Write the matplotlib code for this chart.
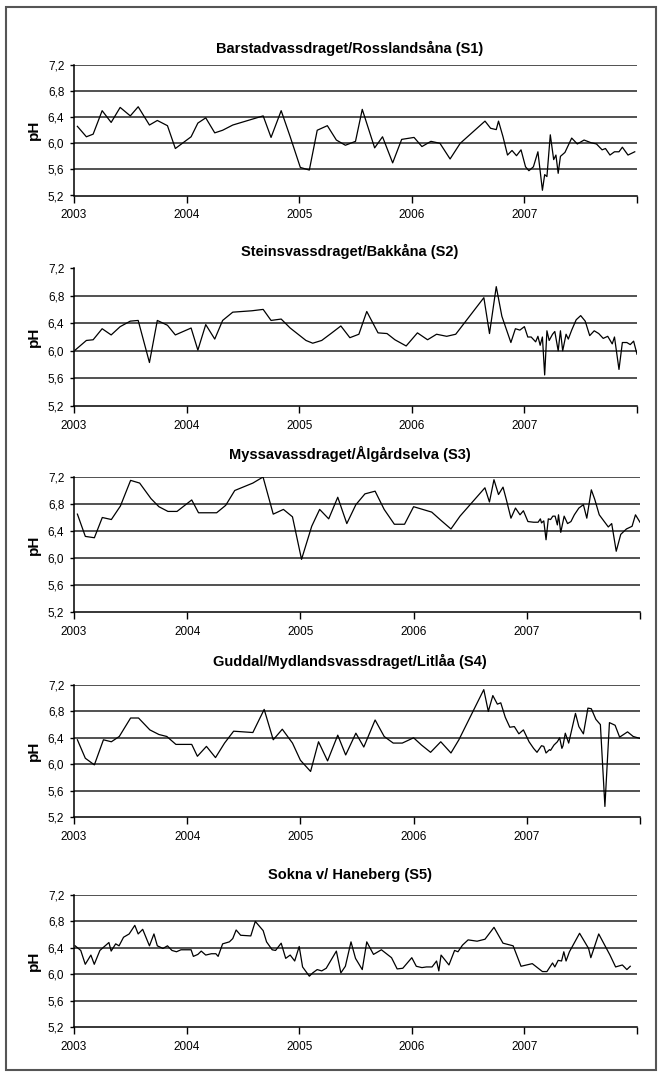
import matplotlib
matplotlib.use("Agg")
import matplotlib.pyplot as plt
from matplotlib.patches import Rectangle

plt.rcParams['font.family'] = ['Liberation Sans', 'DejaVu Sans']

titles = [
    "Barstadvassdraget/Rosslandsåna (S1)",
    "Steinsvassdraget/Bakkåna (S2)",
    "Myssavassdraget/Ålgårdselva (S3)",
    "Guddal/Mydlandsvassdraget/Litlåa (S4)",
    "Sokna v/ Haneberg (S5)",
]
year_ticks = [2003, 2004, 2005, 2006, 2007, 2008]
year_labels = ["2003", "2004", "2005", "2006", "2007", ""]
ph_ticks = [5.2, 5.6, 6.0, 6.4, 6.8, 7.2]
ph_labels = ["5,2", "5,6", "6,0", "6,4", "6,8", "7,2"]

s1_t = [2003.03, 2003.11, 2003.17, 2003.25, 2003.33, 2003.41, 2003.50, 2003.57, 2003.67, 2003.74,
        2003.83, 2003.90, 2004.04, 2004.10, 2004.17, 2004.25, 2004.32, 2004.41, 2004.68, 2004.75,
        2004.84, 2004.92, 2005.01, 2005.09, 2005.16, 2005.25, 2005.33, 2005.41, 2005.50, 2005.56,
        2005.67, 2005.74, 2005.83, 2005.91, 2006.02, 2006.09, 2006.17, 2006.25, 2006.34, 2006.43,
        2006.65, 2006.70, 2006.75, 2006.77, 2006.81, 2006.85, 2006.89, 2006.93, 2006.97, 2007.01,
        2007.04, 2007.08, 2007.12, 2007.16, 2007.18, 2007.20, 2007.23, 2007.26, 2007.28, 2007.30,
        2007.32, 2007.36, 2007.42, 2007.47, 2007.53, 2007.59, 2007.64, 2007.69, 2007.72, 2007.76,
        2007.80, 2007.84, 2007.87, 2007.92, 2007.98]
s1_ph = [6.26, 6.10, 6.14, 6.50, 6.32, 6.55, 6.42, 6.56, 6.28, 6.35,
         6.27, 5.92, 6.10, 6.31, 6.39, 6.16, 6.20, 6.28, 6.42, 6.09,
         6.50, 6.10, 5.63, 5.59, 6.20, 6.27, 6.05, 5.97, 6.03, 6.52,
         5.93, 6.10, 5.70, 6.06, 6.09, 5.95, 6.03, 6.00, 5.76, 6.00,
         6.34, 6.23, 6.21, 6.34, 6.10, 5.82, 5.89, 5.81, 5.90, 5.64,
         5.58, 5.64, 5.87, 5.28, 5.52, 5.49, 6.13, 5.75, 5.82, 5.54,
         5.80, 5.86, 6.08, 5.99, 6.05, 6.01, 5.99, 5.90, 5.92, 5.82,
         5.87, 5.87, 5.94, 5.82, 5.87]

s2_t = [2003.01, 2003.11, 2003.17, 2003.25, 2003.33, 2003.41, 2003.50, 2003.57, 2003.67, 2003.74,
        2003.83, 2003.90, 2004.04, 2004.10, 2004.17, 2004.25, 2004.32, 2004.41, 2004.58, 2004.68,
        2004.75, 2004.84, 2004.92, 2005.06, 2005.12, 2005.20, 2005.29, 2005.37, 2005.45, 2005.53,
        2005.60, 2005.70, 2005.78, 2005.85, 2005.95, 2006.05, 2006.14, 2006.22, 2006.31, 2006.39,
        2006.64, 2006.69, 2006.75, 2006.80, 2006.88, 2006.92, 2006.96, 2007.00, 2007.03, 2007.06,
        2007.10, 2007.12, 2007.14, 2007.16, 2007.18, 2007.20, 2007.22, 2007.25, 2007.27, 2007.30,
        2007.32, 2007.34, 2007.37, 2007.39, 2007.42, 2007.46, 2007.50, 2007.54, 2007.58, 2007.62,
        2007.66, 2007.70, 2007.74, 2007.78, 2007.80, 2007.84, 2007.87, 2007.91, 2007.94, 2007.97,
        2008.00]
s2_ph = [6.01, 6.15, 6.16, 6.32, 6.23, 6.35, 6.43, 6.44, 5.83, 6.44,
         6.37, 6.23, 6.33, 6.01, 6.38, 6.17, 6.44, 6.56, 6.58, 6.60,
         6.44, 6.46, 6.33, 6.15, 6.11, 6.15, 6.26, 6.36, 6.19, 6.24,
         6.57, 6.26, 6.25, 6.16, 6.07, 6.26, 6.16, 6.24, 6.21, 6.24,
         6.77, 6.25, 6.93, 6.50, 6.12, 6.32, 6.30, 6.35, 6.20, 6.20,
         6.13, 6.21, 6.08, 6.20, 5.65, 6.29, 6.15, 6.24, 6.28, 6.00,
         6.29, 6.00, 6.24, 6.17, 6.30, 6.45, 6.51, 6.43, 6.22, 6.29,
         6.25, 6.18, 6.21, 6.10, 6.20, 5.73, 6.12, 6.12, 6.09, 6.14,
         5.95]

s3_t = [2003.03, 2003.10, 2003.18, 2003.25, 2003.33, 2003.41, 2003.50, 2003.58, 2003.68, 2003.75,
        2003.83, 2003.91, 2004.04, 2004.10, 2004.26, 2004.34, 2004.42, 2004.58, 2004.67, 2004.76,
        2004.85, 2004.93, 2005.01, 2005.10, 2005.17, 2005.25, 2005.33, 2005.41, 2005.49, 2005.57,
        2005.66, 2005.74, 2005.83, 2005.92, 2006.00, 2006.16, 2006.24, 2006.33, 2006.41, 2006.63,
        2006.67, 2006.71, 2006.75, 2006.79, 2006.82, 2006.86, 2006.90, 2006.94, 2006.97, 2007.01,
        2007.06, 2007.10, 2007.12, 2007.13, 2007.15, 2007.17, 2007.19, 2007.21, 2007.23, 2007.25,
        2007.27, 2007.28, 2007.30, 2007.33, 2007.36, 2007.39, 2007.42, 2007.46, 2007.50, 2007.53,
        2007.57, 2007.60, 2007.64, 2007.68, 2007.72, 2007.75, 2007.79, 2007.83, 2007.88, 2007.93,
        2007.96, 2008.00]
s3_ph = [6.65, 6.32, 6.30, 6.60, 6.57, 6.77, 7.15, 7.11, 6.88, 6.76,
         6.69, 6.69, 6.86, 6.67, 6.67, 6.78, 7.00, 7.11, 7.20, 6.65,
         6.72, 6.61, 5.98, 6.47, 6.72, 6.58, 6.90, 6.51, 6.79, 6.95,
         6.99, 6.72, 6.50, 6.50, 6.76, 6.68, 6.56, 6.43, 6.62, 7.04,
         6.83, 7.16, 6.94, 7.05, 6.86, 6.59, 6.74, 6.64, 6.70, 6.54,
         6.53, 6.53, 6.58, 6.52, 6.55, 6.27, 6.58, 6.57, 6.62, 6.62,
         6.49, 6.64, 6.38, 6.62, 6.51, 6.54, 6.64, 6.74, 6.79, 6.59,
         7.01, 6.87, 6.64, 6.55, 6.46, 6.51, 6.10, 6.35, 6.43, 6.47,
         6.64, 6.53]

s4_t = [2003.03, 2003.10, 2003.18, 2003.26, 2003.33, 2003.40, 2003.50, 2003.57, 2003.67, 2003.75,
        2003.82, 2003.90, 2004.04, 2004.09, 2004.17, 2004.25, 2004.33, 2004.41, 2004.58, 2004.68,
        2004.76, 2004.84, 2004.93, 2005.00, 2005.09, 2005.16, 2005.24, 2005.33, 2005.40, 2005.49,
        2005.56, 2005.66, 2005.74, 2005.82, 2005.90, 2006.00, 2006.07, 2006.15, 2006.24, 2006.33,
        2006.40, 2006.62, 2006.66, 2006.70, 2006.74, 2006.77, 2006.81, 2006.85, 2006.89, 2006.93,
        2006.97, 2007.02, 2007.06, 2007.09, 2007.13, 2007.15, 2007.17, 2007.20, 2007.21, 2007.24,
        2007.27, 2007.29, 2007.31, 2007.32, 2007.34, 2007.37, 2007.43, 2007.46, 2007.50, 2007.54,
        2007.57, 2007.61, 2007.65, 2007.69, 2007.73, 2007.78, 2007.82, 2007.89, 2007.94, 2008.00]
s4_ph = [6.37, 6.09, 5.99, 6.37, 6.34, 6.42, 6.70, 6.70, 6.52, 6.45,
         6.42, 6.30, 6.30, 6.12, 6.27, 6.10, 6.32, 6.50, 6.48, 6.83,
         6.37, 6.53, 6.32, 6.06, 5.89, 6.34, 6.05, 6.44, 6.14, 6.47,
         6.26, 6.67, 6.42, 6.32, 6.32, 6.40, 6.29, 6.18, 6.34, 6.17,
         6.37, 7.13, 6.80, 7.04, 6.91, 6.93, 6.71, 6.56, 6.57, 6.46,
         6.52, 6.34, 6.24, 6.18, 6.28, 6.27, 6.17, 6.22, 6.21, 6.29,
         6.34, 6.40, 6.24, 6.28, 6.47, 6.32, 6.77, 6.57, 6.46, 6.85,
         6.84, 6.68, 6.60, 5.36, 6.63, 6.59, 6.41, 6.49, 6.42, 6.39]

s5_t = [2003.01, 2003.06, 2003.10, 2003.15, 2003.18, 2003.23, 2003.31, 2003.33, 2003.37, 2003.40,
        2003.44, 2003.49, 2003.54, 2003.57, 2003.61, 2003.67, 2003.71, 2003.74, 2003.79, 2003.83,
        2003.87, 2003.91, 2003.95, 2004.04, 2004.06, 2004.10, 2004.13, 2004.17, 2004.22, 2004.26,
        2004.28, 2004.32, 2004.38, 2004.41, 2004.44, 2004.48, 2004.57, 2004.61, 2004.68, 2004.71,
        2004.76, 2004.79, 2004.84, 2004.88, 2004.92, 2004.96, 2005.00, 2005.03, 2005.09, 2005.12,
        2005.16, 2005.20, 2005.24, 2005.33, 2005.37, 2005.41, 2005.46, 2005.50, 2005.56, 2005.60,
        2005.66, 2005.73, 2005.82, 2005.87, 2005.92, 2006.00, 2006.04, 2006.09, 2006.13, 2006.18,
        2006.22, 2006.24, 2006.26, 2006.33, 2006.38, 2006.41, 2006.45, 2006.50, 2006.58, 2006.65,
        2006.73, 2006.81, 2006.90, 2006.97, 2007.07, 2007.16, 2007.20, 2007.25, 2007.27, 2007.30,
        2007.33, 2007.35, 2007.37, 2007.40, 2007.49, 2007.57, 2007.59, 2007.66, 2007.76, 2007.81,
        2007.87, 2007.91, 2007.94]
s5_ph = [6.43, 6.36, 6.15, 6.29, 6.15, 6.36, 6.48, 6.35, 6.46, 6.43,
         6.56, 6.61, 6.74, 6.61, 6.68, 6.43, 6.61, 6.43, 6.39, 6.43,
         6.36, 6.34, 6.37, 6.37, 6.27, 6.30, 6.35, 6.29, 6.31, 6.31,
         6.27, 6.46, 6.49, 6.54, 6.67, 6.59, 6.58, 6.80, 6.66, 6.49,
         6.37, 6.36, 6.47, 6.24, 6.29, 6.20, 6.42, 6.11, 5.97, 6.02,
         6.07, 6.05, 6.09, 6.35, 6.02, 6.12, 6.49, 6.24, 6.07, 6.49,
         6.30, 6.37, 6.25, 6.08, 6.09, 6.25, 6.12, 6.10, 6.11, 6.11,
         6.20, 6.05, 6.29, 6.14, 6.36, 6.34, 6.44, 6.52, 6.50, 6.53,
         6.71, 6.47, 6.43, 6.12, 6.16, 6.04, 6.04, 6.17, 6.11, 6.21,
         6.20, 6.34, 6.20, 6.34, 6.62, 6.39, 6.25, 6.61, 6.29, 6.11,
         6.14, 6.07, 6.12]

series_t = [s1_t, s2_t, s3_t, s4_t, s5_t]
series_ph = [s1_ph, s2_ph, s3_ph, s4_ph, s5_ph]
grid_levels = [
    [5.6, 6.0, 6.4, 6.8, 7.2],
    [5.6, 6.0, 6.4, 6.8],
    [5.6, 6.0, 6.4, 6.8, 7.2],
    [5.6, 6.0, 6.4, 6.8, 7.2],
    [5.6, 6.0, 6.4, 6.8, 7.2],
]

W, H = 659, 1077
fig = plt.figure(figsize=(W / 100, H / 100), dpi=100)

# panel geometry in pixels: (top, bottom, left, right, title_y)
panels = [
    (65, 195.5, 74, 637, 48),
    (268, 406, 74, 637, 251),
    (477, 612, 74, 640, 454),
    (685, 817, 74, 640, 661),
    (895, 1027, 74, 637, 875),
]

for i, (top, bot, left, right, ty) in enumerate(panels):
    ax = fig.add_axes([left / W, 1 - bot / H, (right - left) / W, (bot - top) / H])
    for lvl in grid_levels[i]:
        ax.axhline(lvl, color='#222222', lw=1.1, zorder=1)
    ax.plot(series_t[i], series_ph[i], color='black', lw=0.9, zorder=3)
    ax.set_xlim(2003, 2008)
    ax.set_ylim(5.2, 7.2)
    ax.set_xticks(year_ticks)
    ax.set_xticklabels(year_labels)
    ax.set_yticks(ph_ticks)
    ax.set_yticklabels(ph_labels)
    ax.tick_params(axis='x', direction='out', length=5, width=1, pad=5, labelsize=8.5)
    ax.tick_params(axis='y', direction='out', length=3, width=1, pad=4, labelsize=8.5)
    for s in ['top', 'right']:
        ax.spines[s].set_visible(False)
    for s in ['left', 'bottom']:
        ax.spines[s].set_linewidth(1.1)
        ax.spines[s].set_color('black')
    ax.set_ylabel('pH', fontsize=11, fontweight='bold', labelpad=5)
    ax.patch.set_alpha(0)
    fig.text(350 / W, 1 - ty / H, titles[i], ha='center', va='center',
             fontsize=10.5, fontweight='bold')

fig.patches.append(Rectangle((5.5 / W, 1 - 1070 / H), (656 - 5.5) / W, (1070 - 7) / H,
                             transform=fig.transFigure, fill=False, edgecolor='#555555', lw=1.5))

fig.savefig('out.png', dpi=100)
